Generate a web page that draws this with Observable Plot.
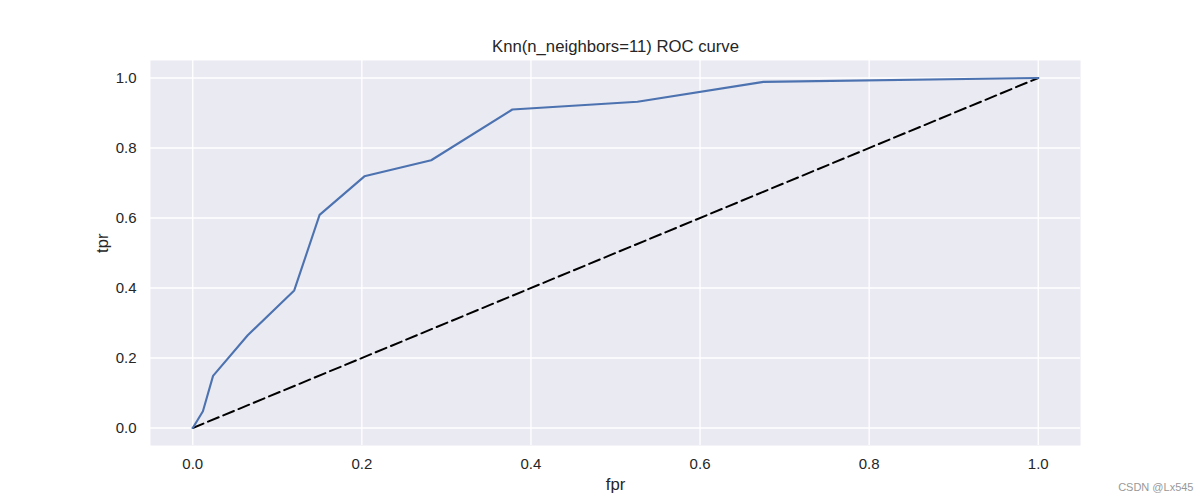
<!DOCTYPE html>
<html>
<head>
<meta charset="utf-8">
<script src="https://cdn.jsdelivr.net/npm/d3@7"></script>
<script src="https://cdn.jsdelivr.net/npm/@observablehq/plot@0.6"></script>
<style>
  html, body { margin: 0; padding: 0; background: #fff; }
  #chart { width: 1200px; height: 500px; position: relative; }
  svg { font-family: "Liberation Sans", Arial, sans-serif; }
</style>
</head>
<body>
<div id="chart"></div>
<script>
const title = "Knn(n_neighbors=11) ROC curve";
const xLabel = "fpr";
const yLabel = "tpr";
const watermark = "CSDN @Lx545";
const ticks = [0, 0.2, 0.4, 0.6, 0.8, 1.0];

const fpr = [0, 0.012, 0.024, 0.065, 0.12, 0.150, 0.203, 0.282, 0.378, 0.526, 0.675, 1.0];
const tpr = [0, 0.048, 0.149, 0.265, 0.393, 0.609, 0.719, 0.765, 0.910, 0.932, 0.989, 1.0];
const diagX = [0, 1];
const diagY = [0, 1];

const roc = fpr.map((f, i) => ({fpr: f, tpr: tpr[i]}));
const diag = diagX.map((d, i) => ({fpr: d, tpr: diagY[i]}));

const textColor = "#262626";

const chart = Plot.plot({
  width: 1200,
  height: 500,
  marginLeft: 150,
  marginRight: 120,
  marginTop: 60,
  marginBottom: 55,
  style: {fontFamily: '"Liberation Sans", Arial, sans-serif', fontSize: "15px", color: textColor, background: "white"},
  x: {domain: [-0.05, 1.05]},
  y: {domain: [-0.05, 1.05]},
  marks: [
    Plot.frame({fill: "#EAEAF2", stroke: null}),
    Plot.gridX(ticks, {stroke: "white", strokeOpacity: 1, strokeWidth: 1.3}),
    Plot.gridY(ticks, {stroke: "white", strokeOpacity: 1, strokeWidth: 1.3}),
    Plot.axisX(ticks, {tickSize: 0, tickPadding: 13, tickFormat: d3.format(".1f"), fontSize: 15, label: null}),
    Plot.axisY(ticks, {tickSize: 0, tickPadding: 14, tickFormat: d3.format(".1f"), fontSize: 15, label: null}),
    Plot.line(diag, {x: "fpr", y: "tpr", stroke: "black", strokeWidth: 2, strokeDasharray: "11.5,5"}),
    Plot.line(roc, {x: "fpr", y: "tpr", stroke: "#4C72B0", strokeWidth: 2.1}),
    Plot.text([title], {frameAnchor: "top", lineAnchor: "bottom", dy: -9, fontSize: 16.7, fill: textColor}),
    Plot.text([xLabel], {frameAnchor: "bottom", lineAnchor: "middle", dy: 39, fontSize: 16.7, fill: textColor}),
    Plot.text([yLabel], {frameAnchor: "left", lineAnchor: "middle", rotate: -90, dx: -48, fontSize: 16.7, fill: textColor}),
    Plot.text([watermark], {frameAnchor: "bottom-right", lineAnchor: "middle", textAnchor: "end", dx: 113, dy: 42, fontSize: 11, fill: "#999999"})
  ]
});
document.getElementById("chart").appendChild(chart);
</script>
</body>
</html>
